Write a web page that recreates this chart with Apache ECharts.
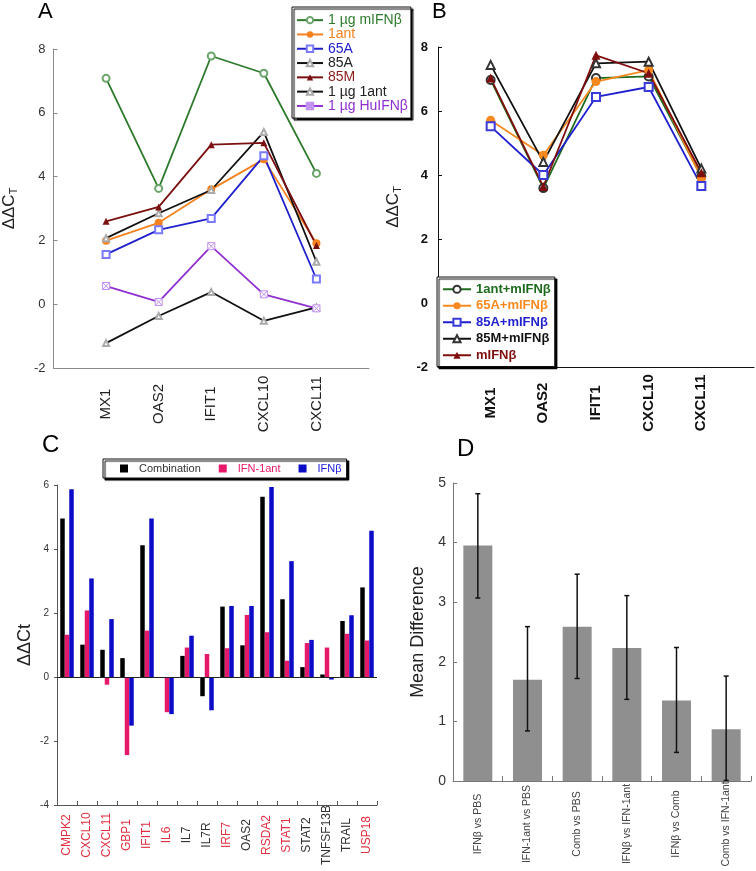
<!DOCTYPE html>
<html>
<head>
<meta charset="utf-8">
<script src="https://cdn.jsdelivr.net/npm/echarts@6/dist/echarts.min.js"></script>
<style>html,body{margin:0;padding:0;background:#fff;}#main{width:756px;height:871px;}</style>
</head>
<body>
<div id="main"></div>
<script>
// ---------- DATA ----------
const geneCats = ['MX1', 'OAS2', 'IFIT1', 'CXCL10', 'CXCL11'];
// Panel A
const a_mIFNb = [7.08, 3.63, 7.78, 7.24, 4.10];
const a_1ant = [1.99, 2.55, 3.60, 4.54, 1.91];
const a_65A = [1.56, 2.33, 2.69, 4.65, 0.79];
const a_85A = [2.07, 2.85, 3.58, 5.40, 1.33];
const a_85M = [2.60, 3.05, 5.00, 5.06, 1.84];
const a_1ug1ant = [-1.22, -0.37, 0.38, -0.52, -0.10];
const a_HuIFNb = [0.57, 0.07, 1.82, 0.31, -0.13];
// Panel B
const b_1ant = [6.97, 3.59, 7.03, 7.08, 3.95];
const b_65A = [5.71, 4.62, 6.92, 7.28, 3.90];
const b_85A = [5.52, 4.00, 6.44, 6.75, 3.66];
const b_85M = [7.44, 4.41, 7.49, 7.54, 4.20];
const b_mIFNb = [7.03, 3.64, 7.74, 7.18, 4.07];
const abTicks = [-2, 0, 2, 4, 6, 8];
// Panel C
const cGenes = ['CMPK2', 'CXCL10', 'CXCL11', 'GBP1', 'IFIT1', 'IL6', 'IL7', 'IL7R', 'IRF7', 'OAS2', 'RSDA2', 'STAT1', 'STAT2', 'TNFSF13B', 'TRAIL', 'USP18'];
const cRedGenes = ['CMPK2', 'CXCL10', 'CXCL11', 'GBP1', 'IFIT1', 'IL6', 'IRF7', 'RSDA2', 'STAT1', 'USP18'];
const cComb = [4.95, 1.01, 0.85, 0.59, 4.12, -0.03, 0.66, -0.60, 2.20, 0.99, 5.63, 2.43, 0.31, 0.08, 1.75, 2.80];
const cIFN1ant = [1.32, 2.08, -0.24, -2.44, 1.45, -1.10, 0.92, 0.72, 0.90, 1.94, 1.40, 0.51, 1.06, 0.92, 1.35, 1.14];
const cIFNb = [5.87, 3.08, 1.81, -1.52, 4.95, -1.16, 1.29, -1.04, 2.22, 2.22, 5.94, 3.62, 1.16, -0.08, 1.93, 4.57];
// Panel D
const dCats = ['IFNβ vs PBS', 'IFN-1ant vs PBS', 'Comb vs PBS', 'IFNβ vs IFN-1ant', 'IFNβ vs Comb', 'Comb vs IFN-1ant'];
const dMean = [3.95, 1.70, 2.59, 2.23, 1.35, 0.87];
const dLow = [3.07, 0.84, 1.72, 1.37, 0.48, 0.01];
const dHigh = [4.82, 2.59, 3.47, 3.11, 2.24, 1.76];

// ---------- BUILD ----------
const FF = 'Liberation Sans, Arial, sans-serif';
const padCats = [''].concat(geneCats, ['']);
const pad = arr => [null].concat(arr, [null]);

const chart = echarts.init(document.getElementById('main'), null, {renderer: 'canvas'});

function lineSeries(name, data, axis, lineColor, symbol, symSize, symColor, symBorder, lw) {
  return {
    name: name, type: 'line', xAxisIndex: axis, yAxisIndex: axis,
    data: pad(data), symbol: symbol, symbolSize: symSize, showSymbol: true,
    lineStyle: {color: lineColor, width: lw || 1.8},
    itemStyle: symBorder ? {color: symColor, borderColor: symBorder, borderWidth: 1} : {color: symColor},
    z: 3
  };
}
const xSq = 'path://M0,0L10,0L10,10L0,10Z M0,0L10,10 M10,0L0,10';

const yName = (gap) => ({
  name: '{a|ΔΔC}{b|T}', nameLocation: 'middle', nameGap: gap, nameRotate: 90,
  nameTextStyle: {rich: {
    a: {fontSize: 17, fontFamily: FF, color: '#222'},
    b: {fontSize: 11, fontFamily: FF, color: '#222', padding: [9, 0, 0, 0]}
  }}
});

const option = {
  animation: false,
  textStyle: {fontFamily: FF},
  grid: [
    {left: 53, top: 49, width: 316, height: 319},
    {left: 438, top: 47, width: 316, height: 320},
    {left: 57, top: 485, width: 320, height: 320},
    {left: 453, top: 483, width: 298, height: 298}
  ],
  xAxis: [
    {gridIndex: 0, type: 'category', data: padCats, boundaryGap: false,
      axisLine: {onZero: false, lineStyle: {color: '#8a8a8a', width: 1}}, axisTick: {show: false},
      axisLabel: {interval: 0, rotate: 90, align: 'center', margin: 36, fontSize: 15, color: '#222'},
      splitLine: {show: false}},
    {gridIndex: 1, type: 'category', data: padCats, boundaryGap: false,
      axisLine: {onZero: false, lineStyle: {color: '#111', width: 1}}, axisTick: {show: false},
      axisLabel: {interval: 0, rotate: 90, align: 'center', margin: 36, fontSize: 15, fontWeight: 'bold', color: '#111'},
      splitLine: {show: false}},
    {gridIndex: 2, type: 'category', data: cGenes, boundaryGap: true,
      axisLine: {onZero: false, lineStyle: {color: '#555', width: 1}},
      axisTick: {show: true, inside: true, length: 4, interval: 0, lineStyle: {color: '#555'}},
      axisLabel: {interval: 0, rotate: 90, align: 'center', margin: 30, fontSize: 12,
        color: (v) => cRedGenes.indexOf(v) >= 0 ? '#e0303f' : '#333'},
      splitLine: {show: false}},
    {gridIndex: 3, type: 'category', data: dCats, boundaryGap: true,
      axisLine: {onZero: false, lineStyle: {color: '#777', width: 1}},
      axisTick: {show: true, inside: true, length: 5, interval: 0, lineStyle: {color: '#777'}},
      axisLabel: {interval: 0, rotate: 90, align: 'center', margin: 43, fontSize: 10.5, color: '#444'},
      splitLine: {show: false}}
  ],
  yAxis: [
    Object.assign({gridIndex: 0, type: 'value', min: abTicks[0], max: abTicks[abTicks.length - 1], interval: 2,
      axisLine: {show: true, lineStyle: {color: '#8a8a8a'}},
      axisTick: {show: true, inside: true, length: 4, lineStyle: {color: '#8a8a8a'}},
      axisLabel: {fontSize: 13, color: '#333', margin: 8},
      splitLine: {show: false}}, yName(34)),
    Object.assign({gridIndex: 1, type: 'value', min: abTicks[0], max: abTicks[abTicks.length - 1], interval: 2,
      axisLine: {show: true, lineStyle: {color: '#111'}},
      axisTick: {show: true, inside: true, length: 4, lineStyle: {color: '#111'}},
      axisLabel: {fontSize: 13, fontWeight: 'bold', color: '#111', margin: 10},
      splitLine: {show: false}}, yName(35)),
    {gridIndex: 2, type: 'value', min: -4, max: 6, interval: 2,
      axisLine: {show: true, lineStyle: {color: '#555'}},
      axisTick: {show: true, inside: false, length: 3, lineStyle: {color: '#555'}},
      axisLabel: {fontSize: 10, color: '#333', margin: 8},
      splitLine: {show: false},
      name: 'ΔΔCt', nameLocation: 'middle', nameGap: 23, nameRotate: 90,
      nameTextStyle: {fontSize: 18, color: '#222'}},
    {gridIndex: 3, type: 'value', min: 0, max: 5, interval: 1,
      axisLine: {show: true, lineStyle: {color: '#777'}},
      axisTick: {show: true, inside: true, length: 4, lineStyle: {color: '#777'}},
      axisLabel: {fontSize: 14, color: '#333', margin: 7},
      splitLine: {show: false},
      name: 'Mean Difference', nameLocation: 'middle', nameGap: 26, nameRotate: 90,
      nameTextStyle: {fontSize: 18, color: '#222'}}
  ],
  legend: [
    {left: 292, top: 7, orient: 'vertical', itemGap: 0, itemWidth: 26, itemHeight: 8,
      padding: [6, 3, 5, 4], backgroundColor: '#fff', borderColor: '#111', borderWidth: 1,
      shadowColor: '#000', shadowOffsetX: 2, shadowOffsetY: 2, shadowBlur: 1,
      textStyle: {fontSize: 14, lineHeight: 14.3},
      data: [
        {name: '1 µg mIFNβ', textStyle: {color: '#2d7a2d'}},
        {name: '1ant', textStyle: {color: '#f5821f'}},
        {name: '65A', textStyle: {color: '#2020cc'}},
        {name: '85A', textStyle: {color: '#222'}},
        {name: '85M', textStyle: {color: '#8b1a1a'}},
        {name: '1 µg 1ant', textStyle: {color: '#222'}},
        {name: '1 µg HuIFNβ', textStyle: {color: '#9030d0'}}
      ]},
    {left: 437, top: 277, orient: 'vertical', itemGap: 0, itemWidth: 28, itemHeight: 9,
      padding: [4, 4, 3, 5], backgroundColor: '#fff', borderColor: '#111', borderWidth: 1,
      shadowColor: '#000', shadowOffsetX: 2, shadowOffsetY: 2, shadowBlur: 1,
      textStyle: {fontSize: 13, fontWeight: 'bold', lineHeight: 16.5},
      data: [
        {name: '1ant+mIFNβ', textStyle: {color: '#1e6b1e'}},
        {name: '65A+mIFNβ', textStyle: {color: '#f7891f'}},
        {name: '85A+mIFNβ', textStyle: {color: '#1f1fd0'}},
        {name: '85M+mIFNβ', textStyle: {color: '#111'}},
        {name: 'mIFNβ', textStyle: {color: '#7f0d0d'}}
      ]},
    {left: 103, top: 459, orient: 'horizontal', itemGap: 18, itemWidth: 8, itemHeight: 8, icon: 'rect',
      padding: [4, 5, 4, 17], backgroundColor: '#fff', borderColor: '#111', borderWidth: 1,
      shadowColor: '#000', shadowOffsetX: 2, shadowOffsetY: 2, shadowBlur: 1,
      textStyle: {fontSize: 11, padding: [0, 0, 0, 6]},
      data: [
        {name: 'Combination', textStyle: {color: '#333'}},
        {name: 'IFN-1ant', textStyle: {color: '#e6186a'}},
        {name: 'IFNβ', textStyle: {color: '#1a1adb'}}
      ]}
  ],
  graphic: [
    {type: 'text', left: 38, top: 1, style: {text: 'A', fontSize: 22, fontFamily: FF, fill: '#000'}},
    {type: 'text', left: 432, top: 1, style: {text: 'B', fontSize: 22, fontFamily: FF, fill: '#000'}},
    {type: 'text', left: 42, top: 433, style: {text: 'C', fontSize: 24, fontFamily: FF, fill: '#000'}},
    {type: 'text', left: 457, top: 437, style: {text: 'D', fontSize: 24, fontFamily: FF, fill: '#000'}}
  ],
  series: [
    // Panel A
    lineSeries('1 µg mIFNβ', a_mIFNb, 0, '#2d7a2d', 'emptyCircle', 7, '#6aa56a'),
    lineSeries('1ant', a_1ant, 0, '#f5821f', 'circle', 8, '#f5821f'),
    lineSeries('65A', a_65A, 0, '#2020cc', 'emptyRect', 7, '#7a7aff'),
    lineSeries('85A', a_85A, 0, '#111', 'emptyTriangle', 6, '#aaa'),
    lineSeries('85M', a_85M, 0, '#7b1010', 'triangle', 7, '#7b1010'),
    lineSeries('1 µg 1ant', a_1ug1ant, 0, '#111', 'emptyTriangle', 6, '#aaa'),
    lineSeries('1 µg HuIFNβ', a_HuIFNb, 0, '#9030d0', xSq, 7, '#fff', '#c090f0'),
    // Panel B
    lineSeries('1ant+mIFNβ', b_1ant, 1, '#1e6b1e', 'emptyCircle', 8, '#333'),
    lineSeries('65A+mIFNβ', b_65A, 1, '#f7891f', 'circle', 9, '#f7891f'),
    lineSeries('85A+mIFNβ', b_85A, 1, '#1f1fd0', 'emptyRect', 8, '#3a3ad8'),
    lineSeries('85M+mIFNβ', b_85M, 1, '#111', 'emptyTriangle', 8, '#333'),
    lineSeries('mIFNβ', b_mIFNb, 1, '#7f0d0d', 'triangle', 9, '#7f0d0d'),
    // Panel C
    {name: 'Combination', type: 'bar', xAxisIndex: 2, yAxisIndex: 2, data: cComb,
      barWidth: 4.5, barGap: '0%', itemStyle: {color: '#000'},
      markLine: {silent: true, symbol: 'none', label: {show: false},
        lineStyle: {color: '#222', type: 'solid', width: 1}, data: [{yAxis: 0}]}},
    {name: 'IFN-1ant', type: 'bar', xAxisIndex: 2, yAxisIndex: 2, data: cIFN1ant,
      barWidth: 4.5, barGap: '0%', itemStyle: {color: '#e6186a'}},
    {name: 'IFNβ', type: 'bar', xAxisIndex: 2, yAxisIndex: 2, data: cIFNb,
      barWidth: 4.5, barGap: '0%', itemStyle: {color: '#0b0bc8'}},
    // Panel D
    {name: 'Mean Difference', type: 'bar', xAxisIndex: 3, yAxisIndex: 3, data: dMean,
      barWidth: 29, itemStyle: {color: '#8f8f8f'}},
    {name: 'CI', type: 'custom', xAxisIndex: 3, yAxisIndex: 3,
      data: dCats.map((c, i) => [i, dLow[i], dHigh[i]]),
      encode: {x: 0, y: [1, 2]}, z: 5,
      renderItem: function (params, api) {
        const lo = api.coord([api.value(0), api.value(1)]);
        const hi = api.coord([api.value(0), api.value(2)]);
        const w = 2.5;
        const st = {stroke: '#111', lineWidth: 1.5};
        return {type: 'group', children: [
          {type: 'line', shape: {x1: lo[0], y1: lo[1], x2: hi[0], y2: hi[1]}, style: st},
          {type: 'line', shape: {x1: lo[0] - w, y1: lo[1], x2: lo[0] + w, y2: lo[1]}, style: st},
          {type: 'line', shape: {x1: hi[0] - w, y1: hi[1], x2: hi[0] + w, y2: hi[1]}, style: st}
        ]};
      }}
  ]
};
chart.setOption(option);
</script>
</body>
</html>
